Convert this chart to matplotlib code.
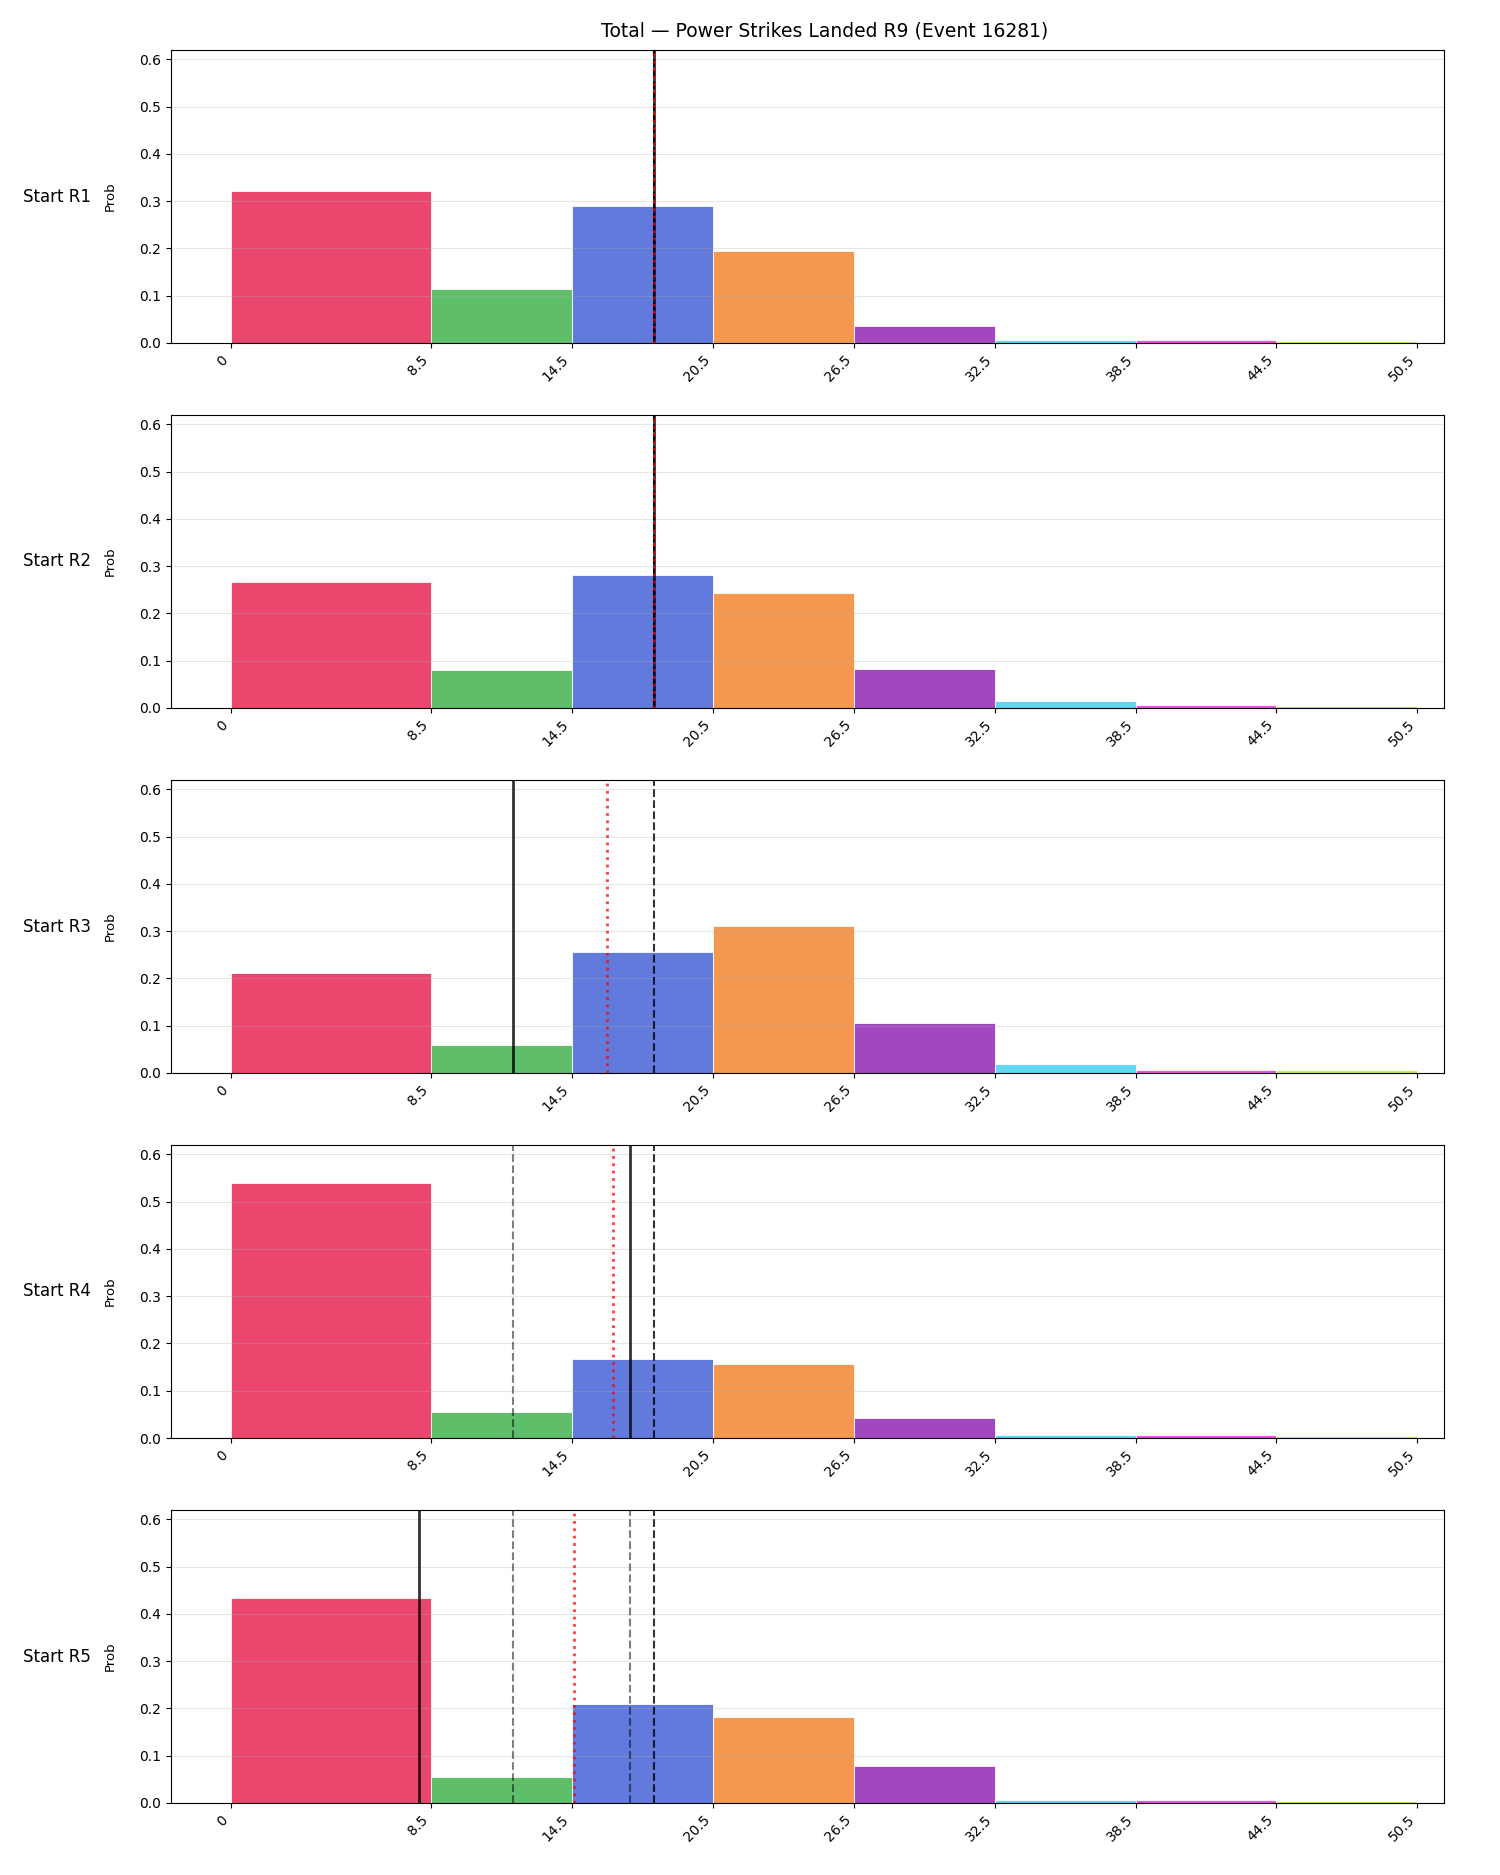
import matplotlib.pyplot as plt

# bins and bar colours
edges = [0, 8.5, 14.5, 20.5, 26.5, 32.5, 38.5, 44.5, 50.5]
tick_labels = ["0", "8.5", "14.5", "20.5", "26.5", "32.5", "38.5", "44.5", "50.5"]
colors = ["#e93c66", "#55bb62", "#5873da", "#f49346", "#9c3ebd", "#58d5f3", "#ec45e6", "#c2ec55"]

rows = ["Start R1", "Start R2", "Start R3", "Start R4", "Start R5"]

# probabilities per start round
probs_r1 = [0.322, 0.114, 0.289, 0.195, 0.035, 0.006, 0.006, 0.005]
probs_r2 = [0.266, 0.080, 0.281, 0.243, 0.082, 0.014, 0.006, 0.005]
probs_r3 = [0.212, 0.060, 0.257, 0.311, 0.106, 0.019, 0.006, 0.006]
probs_r4 = [0.539, 0.056, 0.168, 0.156, 0.043, 0.006, 0.006, 0.005]
probs_r5 = [0.433, 0.055, 0.210, 0.182, 0.078, 0.007, 0.006, 0.005]
all_probs = [probs_r1, probs_r2, probs_r3, probs_r4, probs_r5]

line_value = 18.0                      # black dashed
current = [18.0, 18.0, 12.0, 17.0, 8.0]  # black solid
expected = [18.0, 18.0, 16.0, 16.25, 14.6]  # red dotted
previous = [[], [], [], [12.0], [12.0, 17.0]]  # grey dashed

fig = plt.figure(figsize=(15, 18.75), dpi=100)
W, H = 1500, 1875
tops = [50, 415, 780, 1145, 1510]
ax_h = 293

widths = [edges[i + 1] - edges[i] for i in range(len(edges) - 1)]

for i, name in enumerate(rows):
    ax = fig.add_axes([171 / W, 1 - (tops[i] + ax_h) / H, (1444 - 171) / W, ax_h / H])
    ax.bar(edges[:-1], all_probs[i], width=widths, align="edge", color=colors,
           edgecolor="white", linewidth=0.6, alpha=0.95)
    for p in previous[i]:
        ax.axvline(p, color="black", linestyle="--", linewidth=1.5, alpha=0.5)
    ax.axvline(line_value, color="black", linestyle="--", linewidth=1.5, alpha=0.8)
    ax.axvline(current[i], color="black", linewidth=2, alpha=0.8)
    ax.axvline(expected[i], color="red", linestyle=":", linewidth=2, alpha=0.75)

    ax.set_xlim(-2.55, 51.63)
    ax.set_ylim(0, 0.62)
    ax.set_yticks([0, 0.1, 0.2, 0.3, 0.4, 0.5, 0.6])
    ax.set_yticklabels(["0.0", "0.1", "0.2", "0.3", "0.4", "0.5", "0.6"])
    ax.set_xticks(edges)
    ax.set_xticklabels(tick_labels, rotation=45, ha="right")
    ax.grid(axis="y", alpha=0.3)
    ax.set_ylabel("Prob", fontsize=9.5)
    ax.yaxis.set_label_coords(-0.043, 0.5)
    fig.text(23 / W, 1 - (tops[i] + ax_h / 2) / H, name, ha="left", va="center", fontsize=12)

fig.text(825 / W, 1 - 31 / H, "Total \u2014 Power Strikes Landed R9 (Event 16281)",
         ha="center", va="center", fontsize=13.5)

fig.savefig("out.png", dpi=100)
